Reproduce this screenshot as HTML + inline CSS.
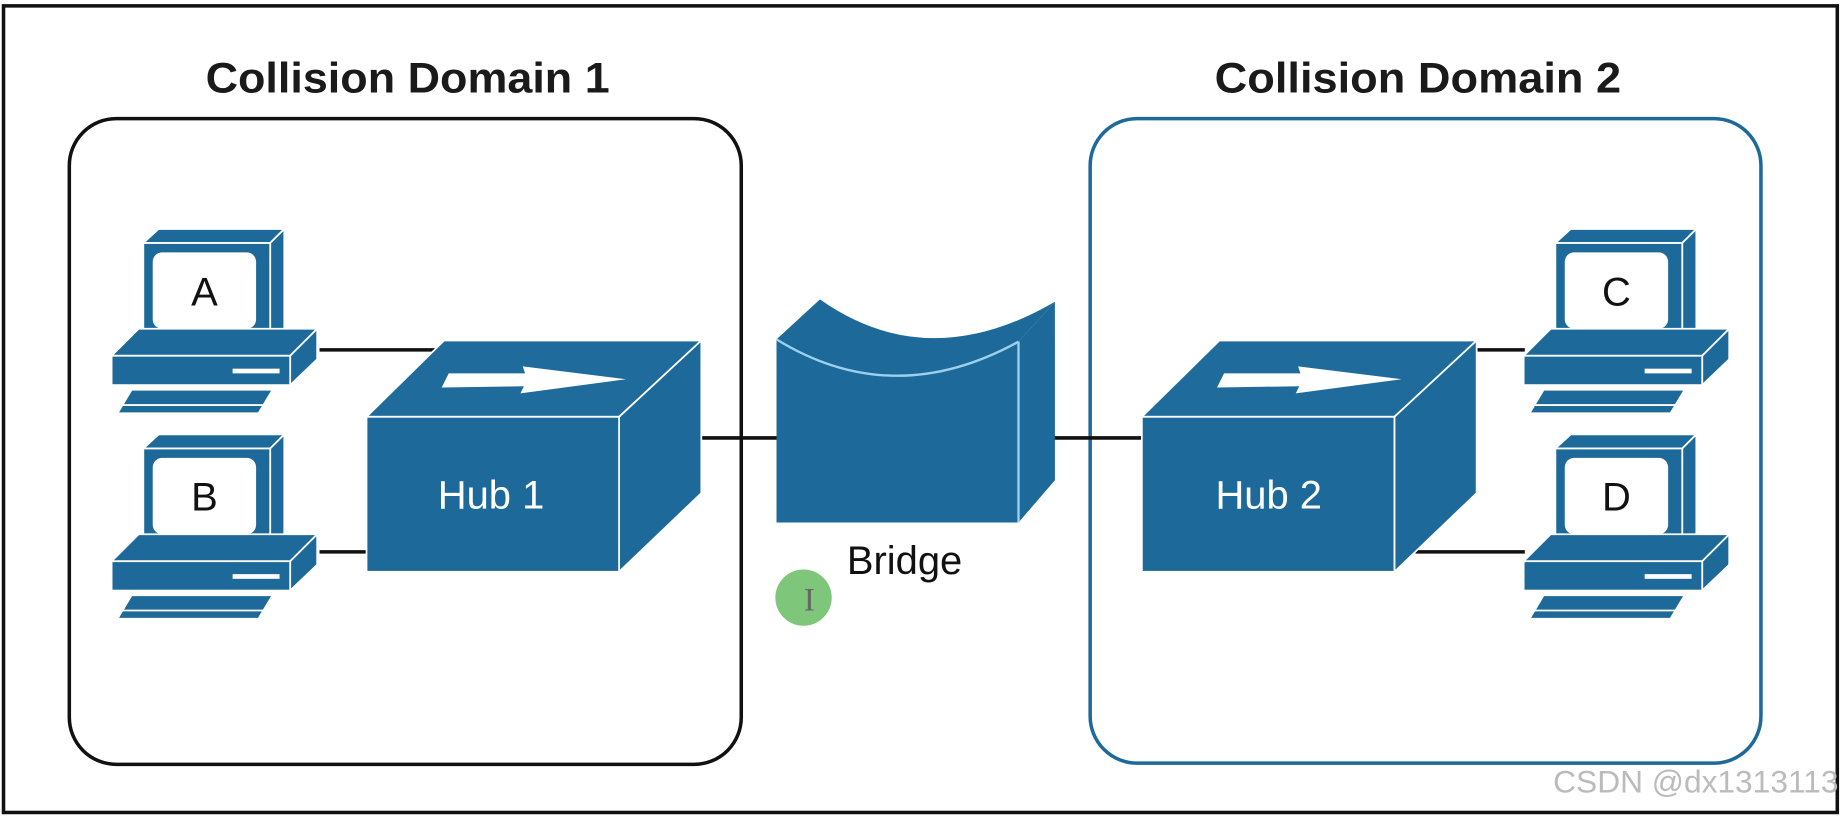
<!DOCTYPE html>
<html><head><meta charset="utf-8"><style>
html,body{margin:0;padding:0;background:#fff;}
svg{display:block;}
</style></head><body>
<svg width="1842" height="816" viewBox="0 0 1568 695" preserveAspectRatio="none" xmlns="http://www.w3.org/2000/svg">
<rect x="0" y="0" width="1568" height="695" fill="#fff"/>
<rect x="3" y="5" width="1561" height="687" fill="none" stroke="#111" stroke-width="3"/>
<text x="347" y="79" text-anchor="middle" font-family="Liberation Sans, sans-serif" font-weight="bold" font-size="36" textLength="344" lengthAdjust="spacingAndGlyphs" fill="#1a1a1a">Collision Domain 1</text>
<text x="1207" y="79" text-anchor="middle" font-family="Liberation Sans, sans-serif" font-weight="bold" font-size="36" textLength="346" lengthAdjust="spacingAndGlyphs" fill="#1a1a1a">Collision Domain 2</text>
<rect x="59" y="101" width="572" height="550" rx="40" fill="none" stroke="#111" stroke-width="3"/>
<rect x="928" y="101" width="571" height="549" rx="40" fill="none" stroke="#1d6a9a" stroke-width="3"/>
<g stroke="#111" stroke-width="3">
<line x1="272" y1="298" x2="380" y2="298"/>
<line x1="272" y1="470" x2="312" y2="470"/>
<line x1="597" y1="373" x2="662" y2="373"/>
<line x1="897" y1="373" x2="972" y2="373"/>
<line x1="1255" y1="298" x2="1298" y2="298"/>
<line x1="1205" y1="470" x2="1298" y2="470"/>
</g>
<defs>
<g id="pc">
<polygon points="122,207 135,195 242,195 230,207" fill="#1d6a9a" stroke="#fff" stroke-width="1.5"/>
<polygon points="230,207 242,195 242,280 230,290" fill="#1d6a9a" stroke="#fff" stroke-width="1.5"/>
<rect x="122" y="207" width="108" height="83" fill="#1d6a9a" stroke="#fff" stroke-width="1.5"/>
<rect x="130" y="215" width="88" height="65" rx="8" fill="#fff"/>
<polygon points="95,303 118,280 270,280 247,303" fill="#1d6a9a" stroke="#fff" stroke-width="1.5"/>
<polygon points="247,303 270,280 270,306 247,328" fill="#1d6a9a" stroke="#fff" stroke-width="1.5"/>
<rect x="95" y="303" width="152" height="25" fill="#1d6a9a" stroke="#fff" stroke-width="1.5"/>
<rect x="198" y="314" width="40" height="4" fill="#fff"/>
<polygon points="100,352 112,332 232,332 220,352" fill="#1d6a9a" stroke="#fff" stroke-width="1.5"/>
<line x1="103" y1="345" x2="225" y2="345" stroke="#fff" stroke-width="1.5"/>
</g>
<g id="hub">
<polygon points="312,355 378,290 597,290 527,355" fill="#1f6c9c" stroke="#fff" stroke-width="1.5"/>
<polygon points="527,355 597,290 597,420 527,487" fill="#1d6a9a" stroke="#fff" stroke-width="1.5"/>
<rect x="312" y="355" width="215" height="132" fill="#1d6a9a" stroke="#fff" stroke-width="1.5"/>
<polygon points="382,318 447,318 445,312 533,323 443,335 446,329 376,330" fill="#fff"/>
</g>
</defs>
<use href="#pc"/>
<use href="#pc" transform="translate(0,175)"/>
<use href="#pc" transform="translate(1202,0)"/>
<use href="#pc" transform="translate(1202,175)"/>
<g font-family="Liberation Sans, sans-serif" font-size="34" text-anchor="middle" fill="#111">
<text x="174" y="260">A</text>
<text x="174" y="435">B</text>
<text x="1376" y="260">C</text>
<text x="1376" y="435">D</text>
</g>
<use href="#hub"/>
<use href="#hub" transform="translate(660,0)"/>
<text x="418" y="433" text-anchor="middle" font-family="Liberation Sans, sans-serif" font-size="34" fill="#fff">Hub 1</text>
<text x="1080" y="433" text-anchor="middle" font-family="Liberation Sans, sans-serif" font-size="34" fill="#fff">Hub 2</text>
<path d="M661,289 L698,255 Q790,320 898,257 L867,291 Q760,350 661,289 Z" fill="#1d6a9a"/>
<path d="M661,289 Q760,350 867,291 L867,445 L661,445 Z" fill="#1d6a9a"/>
<path d="M661,289 Q760,350 867,291" fill="none" stroke="#9cd0f0" stroke-width="2"/>
<path d="M867,291 L898,257 L898,409 L867,445 Z" fill="#1d6a9a"/>
<line x1="867" y1="291" x2="867" y2="445" stroke="#9cd0f0" stroke-width="2"/>
<text x="770" y="489" text-anchor="middle" font-family="Liberation Sans, sans-serif" font-size="34" fill="#111">Bridge</text>
<circle cx="684" cy="509" r="24" fill="#7dc67a"/>
<text x="689" y="520" text-anchor="middle" font-family="Liberation Serif, serif" font-size="28" fill="#666">I</text>
<text x="1565" y="675" text-anchor="end" font-family="Liberation Sans, sans-serif" font-size="27" fill="#bbbbbb">CSDN @dx1313113</text>
</svg>
</body></html>
